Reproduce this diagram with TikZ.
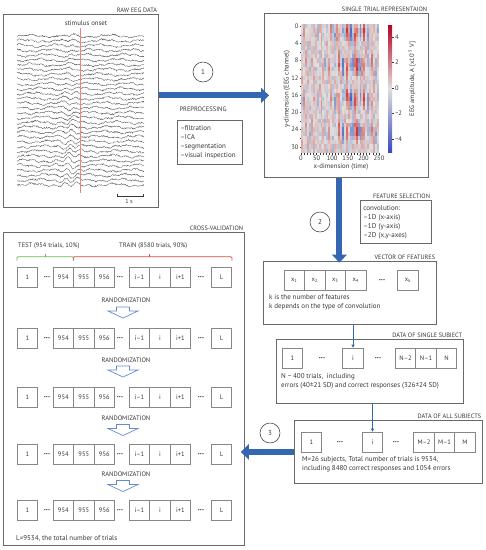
\documentclass[tikz,border=0pt]{standalone}
\usepackage{fontspec}
\setmainfont{PT Sans}
\usetikzlibrary{arrows.meta,calc}
\definecolor{txt}{RGB}{55,55,55}
\definecolor{frame}{RGB}{105,105,105}
\definecolor{cellframe}{RGB}{135,135,135}
\definecolor{bluearr}{RGB}{52,102,178}
\definecolor{hollow}{RGB}{100,140,205}
\definecolor{hot}{RGB}{210,50,45}
\definecolor{cold}{RGB}{60,95,195}
\definecolor{mid}{RGB}{224,222,220}
\definecolor{hotdark}{RGB}{180,4,38}
\definecolor{colddark}{RGB}{59,76,192}
\definecolor{bracegreen}{RGB}{100,185,80}
\definecolor{bracered}{RGB}{220,70,70}
\definecolor{onset}{RGB}{240,130,130}
\definecolor{eeg}{RGB}{75,75,75}
\newcommand\cvrow[2]{%
  \node[cell] (#1a) at (27.5,#2) {1};
  \node[dotsnode] (#1d1) at (47,#2) {•••};
  \node[cell] (#1b) at (63.3,#2) {954};
  \node[cell] (#1c) at (83.8,#2) {955};
  \node[cell] (#1e) at (104.3,#2) {956};
  \node[dotsnode] (#1d2) at (120,#2) {•••};
  \node[cell] (#1f) at (139.5,#2) {i–1};
  \node[cell] (#1g) at (160,#2) {i};
  \node[cell] (#1h) at (180.5,#2) {i+1};
  \node[dotsnode] (#1d3) at (201,#2) {•••};
  \node[cell] (#1l) at (221.5,#2) {L};
}
\newcommand\hollowarr[2]{%
  \draw[hollowarrow] (#1-6.5,#2) -- (#1+6.5,#2) -- (#1+6.5,#2+4) -- (#1+15,#2+4) -- (#1,#2+11) -- (#1-15,#2+4) -- (#1-6.5,#2+4) -- cycle;
}
\begin{document}
\begin{tikzpicture}[x=1pt,y=-1pt, font=\fontsize{7}{9}\selectfont, text=txt,
  bigbox/.style={draw=frame, line width=0.8pt, rectangle, inner sep=0, anchor=north west},
  title/.style={anchor=south east, inner sep=1.5pt, font=\fontsize{6.3}{8}\selectfont},
  cell/.style={draw=cellframe, line width=0.6pt, minimum width=20.5, minimum height=20, inner sep=0, font=\fontsize{6.5}{8}\selectfont},
  dotsnode/.style={inner sep=0, font=\fontsize{4.5}{5}\selectfont},
  infobox/.style={draw=frame, line width=0.7pt, anchor=north west, inner xsep=3pt, align=left},
  stepnum/.style={draw=txt, circle, minimum size=20, inner sep=0, line width=0.5pt},
  bigarrow/.style={draw=bluearr, line width=6pt, -{Triangle[width=15pt,length=8pt]}},
  thinarrow/.style={draw=bluearr, line width=0.7pt, -{Triangle[width=3pt,length=3pt]}},
  hollowarrow/.style={draw=hollow, fill=white, line width=0.7pt},
  ticklab/.style={inner sep=0.8pt, font=\fontsize{6.5}{7}\selectfont},
  eegline/.style={draw=eeg, line width=0.3pt},
]
\useasboundingbox (0,0) rectangle (486,550);
\fill[white] (0,0) rectangle (486,550);

%---------------- RAW EEG ----------------
\node[bigbox, minimum width=155, minimum height=193] (raw) at (3,14) {};
\node[title] at (raw.north east) {RAW EEG DATA};
\node[font=\fontsize{6.8}{8}\selectfont] (onsetlab) at (86,23) {stimulus onset};
\pgfmathsetseed{11}
\foreach \k in {0,...,31}{
  \draw[eegline] plot[domain=17:144, samples=200] (\x, {36+4.8*\k + 0.75*rand + 1.1*sin(\x*9+\k*57) + 0.6*sin(\x*31+\k*13) + 2.0*exp(-1*((\x-70)/9)^2)*sin(\x*28+\k*20)});
}
\draw[onset, line width=0.3pt] (80,28) -- (80,193);
\coordinate (sb1) at (117,196);
\coordinate (sb2) at (143,196);
\draw[txt, line width=0.5pt] ($(sb1)+(0,-2.5)$) -- (sb1) -- (sb2) -- ($(sb2)+(0,-2.5)$);
\node[font=\fontsize{6}{7}\selectfont, inner sep=0] (onesec) at (129,201.5) {1 s};

%---------------- PREPROCESSING ----------------
\node[stepnum] (c1) at (203,72) {1};
\node[font=\fontsize{6.5}{8}\selectfont] (prelab) at (203,109) {PREPROCESSING};
\node[infobox, text width=59, minimum height=44] (pre) at (177,120) {–filtration\\–ICA\\–segmentation\\–visual inspection};

%---------------- HEATMAP ----------------
\node[bigbox, minimum width=164, minimum height=164] (heat) at (264,13) {};
\node[title] at (heat.north east) {SINGLE TRIAL REPRESENTAION};
\pgfmathsetseed{5}
\foreach \rr in {0,...,29}{
  \foreach \cc in {0,...,39}{
    \pgfmathsetmacro\vv{(0.2+0.8*exp(-1*((\cc*6.25-165)/55)^2))*(0.55+0.45*sin(\rr*47+20))*cos((\cc*6.25-172)*13.3)+0.28*sin(\cc*127.1+floor(\rr/2)*311.7)+0.15*rand+0.05}
    \pgfmathtruncatemacro\pp{min(100,abs(\vv)*88)}
    \ifdim \vv pt>0pt \colorlet{hc}{hot!\pp!mid}\else\colorlet{hc}{cold!\pp!mid}\fi
    \fill[hc] (301+\cc*1.95, 24+\rr*4.3) rectangle ++(2.0,4.35);
  }
}
\foreach \lab/\yy in {0/26.2,4/43.4,8/60.6,12/77.8,16/95,20/112.2,24/129.4,30/147}{
  \draw[txt, line width=0.4pt] (299.5,\yy) -- (301,\yy);
  \node[ticklab, anchor=east] at (299.5,\yy) {\lab};
}
\foreach \yy in {34.8,52,69.2,86.4,103.6,120.8,138.2}{
  \draw[txt, line width=0.4pt] (299.8,\yy) -- (301,\yy);
}
\foreach \j in {0,...,25}{
  \draw[txt, line width=0.3pt] (301+\j*3.12,153) -- (301+\j*3.12,154.6);
}
\foreach \lab [count=\i from 0] in {0,50,100,150,200,250}{
  \node[ticklab, anchor=north] at (301+\i*15.6,154.5) {\lab};
}
\node[font=\fontsize{6.8}{8}\selectfont] (xlab) at (341,167) {x-dimension (time)};
\node[font=\fontsize{6.8}{8}\selectfont, rotate=90] (ylab) at (287,89) {y-dimension (EEG channel)};
\shade[top color=hotdark, bottom color=mid] (388,25) rectangle (392,88.6);
\shade[top color=mid, bottom color=colddark] (388,88.5) rectangle (392,152);
\foreach \lab/\yy in {4/37,2/62.5,0/88,−2/113.5,−4/139}{
  \draw[txt, line width=0.4pt] (392,\yy) -- (393.5,\yy);
  \node[ticklab, anchor=west] at (394,\yy) {\lab};
}
\node[font=\fontsize{6.5}{8}\selectfont, rotate=90] (cblab) at (412,79) {EEG amplitude, A [x10\textsuperscript{-5} V]};

\draw[bigarrow, shorten >=-5pt] (raw.east |- heat.west) -- (heat.west);

%---------------- FEATURE SELECTION ----------------
\node[stepnum] (c2) at (320,222) {2};
\node[infobox, text width=65, minimum height=43] (feat) at (360,200) {convolution:\\–1D (x-axis)\\–1D (y-axis)\\–2D (x,y-axes)};
\node[title] at (feat.north east) {FEATURE SELECTION};

%---------------- VECTOR OF FEATURES ----------------
\node[bigbox, minimum width=173, minimum height=63] (vec) at (263,261) {};
\node[title] at (vec.north east) {VECTOR OF FEATURES};
\node[cell] (x1) at (294.3,280) {x\textsubscript{1}};
\node[cell] (x2) at (314.8,280) {x\textsubscript{2}};
\node[cell] (x3) at (335.3,280) {x\textsubscript{3}};
\node[cell] (x4) at (355.8,280) {x\textsubscript{4}};
\node[dotsnode] (xd) at (382,280) {•••};
\node[cell] (xk) at (408,280) {x\textsubscript{k}};
\node[anchor=base west, align=left, inner sep=0] (vectxt) at (269,308) {k is the number of features\\k depends on the type of convolution};

\coordinate (va) at ($(heat.south)+(-7,0)$);
\draw[bigarrow, shorten >=-1.5pt] (va) -- (va |- vec.north);

%---------------- SINGLE SUBJECT ----------------
\node[bigbox, minimum width=187, minimum height=64] (ss) at (276,339) {};
\node[title] at (ss.north east) {DATA OF SINGLE SUBJECT};
\node[cell] (ss1) at (292.5,358) {1};
\node[dotsnode] (ssd1) at (322,358) {•••};
\node[cell] (ssi) at (353,358) {i};
\node[dotsnode] (ssd2) at (378,358) {•••};
\node[cell] (ssn2) at (405.5,358) {N–2};
\node[cell] (ssn1) at (426,358) {N–1};
\node[cell] (ssn) at (446.5,358) {N};
\node[anchor=base west, align=left, inner sep=0] (sstxt) at (281,387) {N \textasciitilde{} 400 trials,\ \ including\\errors (40±21 SD) and correct responses (326±24 SD)};
\draw[thinarrow] (vec.south -| ssi.north) -- (ssi.north);

%---------------- ALL SUBJECTS ----------------
\node[bigbox, minimum width=188, minimum height=63] (as) at (294,420) {};
\node[title] at (as.north east) {DATA OF ALL SUBJECTS};
\node[cell] (as1) at (311.5,442) {1};
\node[dotsnode] (asd1) at (340,442) {•••};
\node[cell] (asi) at (372.5,442) {i};
\node[dotsnode] (asd2) at (396,442) {•••};
\node[cell] (asm2) at (424,442) {M–2};
\node[cell] (asm1) at (444.5,442) {M–1};
\node[cell] (asm) at (465,442) {M};
\node[anchor=base west, align=left, inner sep=0] (astxt) at (302,470) {M=26 subjects, Total number of trials is 9534,\\including 8480 correct responses and 1054 errors};
\draw[thinarrow] (ss.south -| asi.north) -- (asi.north);

\node[stepnum] (c3) at (270,433) {3};

%---------------- CROSS-VALIDATION ----------------
\node[bigbox, minimum width=241, minimum height=313] (cv) at (3,232) {};
\node[title] at (cv.north east) {CROSS-VALIDATION};
\draw[bigarrow, shorten >=-4pt] (as.west) -- (as.west -| cv.east);

\node[anchor=base west, inner sep=0, font=\fontsize{6.5}{8}\selectfont] (testlab) at (18,247) {TEST (954 trials, 10\%)};
\node[anchor=base west, inner sep=0, font=\fontsize{6.5}{8}\selectfont] (trainlab) at (119,247) {TRAIN (8580 trials, 90\%)};

\cvrow{ra}{277}
\cvrow{rb}{338}
\cvrow{rc}{397}
\cvrow{rd}{454}
\cvrow{re}{510}

\draw[bracegreen, line width=0.7pt, rounded corners=1.2pt] ($(raa.north west)+(0,-6)$) -- ($(raa.north west)+(0,-10)$) -- ($(rab.north east)+(0,-10)$) -- ($(rab.north east)+(0,-6)$);
\draw[bracegreen, line width=0.7pt] ($(raa.north west)!0.5!(rab.north east)+(0,-10)$) -- ++(0,-3);
\draw[bracered, line width=0.7pt, rounded corners=1.2pt] ($(rac.north west)+(0,-6)$) -- ($(rac.north west)+(0,-10)$) -- ($(ral.north east)+(0,-10)$) -- ($(ral.north east)+(0,-6)$);
\draw[bracered, line width=0.7pt] ($(rac.north west)!0.48!(ral.north east)+(0,-10)$) -- ++(0,-3);

\foreach \ly/\ay in {300/307,360/366,418/424.5,474/480.5}{
  \node[font=\fontsize{6.5}{8}\selectfont] at (126,\ly) {RANDOMIZATION};
  \hollowarr{123}{\ay}
}
\node[anchor=base west, inner sep=0] (cvtxt) at (16,540) {L=9534, the total number of trials};
\end{tikzpicture}
\end{document}
